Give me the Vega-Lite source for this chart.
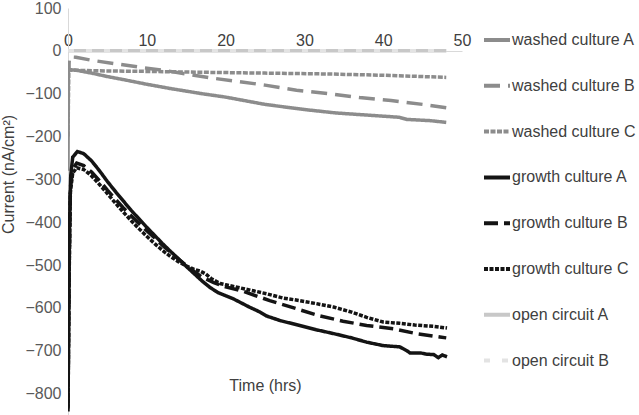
{
  "$schema": "https://vega.github.io/schema/vega-lite/v6.json",
  "width": 394,
  "height": 407,
  "autosize": {"type": "none"},
  "padding": {"left": 68, "top": 8, "right": 177, "bottom": 0},
  "background": "white",
  "config": {"view": {"stroke": null}, "font": "Liberation Sans"},
  "data": {"values": [
    {"s":"washed culture A","t":0,"v":-280},{"s":"washed culture A","t":0.05,"v":-27},{"s":"washed culture A","t":0.15,"v":-44},{"s":"washed culture A","t":1,"v":-45},{"s":"washed culture A","t":3,"v":-52},{"s":"washed culture A","t":5,"v":-60},{"s":"washed culture A","t":7,"v":-67},{"s":"washed culture A","t":10,"v":-78},{"s":"washed culture A","t":13,"v":-88},{"s":"washed culture A","t":17,"v":-100},{"s":"washed culture A","t":20,"v":-108},{"s":"washed culture A","t":25,"v":-125},{"s":"washed culture A","t":30,"v":-137},{"s":"washed culture A","t":34,"v":-145},{"s":"washed culture A","t":38,"v":-150},{"s":"washed culture A","t":42,"v":-155},{"s":"washed culture A","t":43,"v":-160},{"s":"washed culture A","t":46,"v":-163},{"s":"washed culture A","t":48,"v":-167},
    {"s":"washed culture B","t":0,"v":-60},{"s":"washed culture B","t":0.2,"v":-14},{"s":"washed culture B","t":1,"v":-15},{"s":"washed culture B","t":3,"v":-22},{"s":"washed culture B","t":6,"v":-30},{"s":"washed culture B","t":9,"v":-38},{"s":"washed culture B","t":12,"v":-45},{"s":"washed culture B","t":15,"v":-54},{"s":"washed culture B","t":18,"v":-63},{"s":"washed culture B","t":21,"v":-70},{"s":"washed culture B","t":25,"v":-80},{"s":"washed culture B","t":29,"v":-92},{"s":"washed culture B","t":33,"v":-100},{"s":"washed culture B","t":37,"v":-109},{"s":"washed culture B","t":41,"v":-116},{"s":"washed culture B","t":45,"v":-125},{"s":"washed culture B","t":48,"v":-133},
    {"s":"washed culture C","t":0,"v":-200},{"s":"washed culture C","t":0.1,"v":-45},{"s":"washed culture C","t":5,"v":-47},{"s":"washed culture C","t":10,"v":-48},{"s":"washed culture C","t":17,"v":-50},{"s":"washed culture C","t":25,"v":-52},{"s":"washed culture C","t":33,"v":-54},{"s":"washed culture C","t":40,"v":-57},{"s":"washed culture C","t":45,"v":-60},{"s":"washed culture C","t":48,"v":-62},
    {"s":"growth culture A","t":0,"v":-842},{"s":"growth culture A","t":0.1,"v":-600},{"s":"growth culture A","t":0.2,"v":-400},{"s":"growth culture A","t":0.35,"v":-290},{"s":"growth culture A","t":0.6,"v":-248},{"s":"growth culture A","t":1.2,"v":-235},{"s":"growth culture A","t":2,"v":-240},{"s":"growth culture A","t":3,"v":-257},{"s":"growth culture A","t":4,"v":-280},{"s":"growth culture A","t":5,"v":-305},{"s":"growth culture A","t":6,"v":-328},{"s":"growth culture A","t":7,"v":-350},{"s":"growth culture A","t":8,"v":-372},{"s":"growth culture A","t":9,"v":-392},{"s":"growth culture A","t":10,"v":-412},{"s":"growth culture A","t":11,"v":-431},{"s":"growth culture A","t":12,"v":-450},{"s":"growth culture A","t":13,"v":-468},{"s":"growth culture A","t":14,"v":-485},{"s":"growth culture A","t":15,"v":-503},{"s":"growth culture A","t":16,"v":-520},{"s":"growth culture A","t":17,"v":-537},{"s":"growth culture A","t":18,"v":-552},{"s":"growth culture A","t":19,"v":-564},{"s":"growth culture A","t":21,"v":-579},{"s":"growth culture A","t":23,"v":-598},{"s":"growth culture A","t":24.4,"v":-610},{"s":"growth culture A","t":25.2,"v":-619},{"s":"growth culture A","t":27,"v":-630},{"s":"growth culture A","t":29.4,"v":-641},{"s":"growth culture A","t":31.5,"v":-651},{"s":"growth culture A","t":33.7,"v":-660},{"s":"growth culture A","t":36,"v":-670},{"s":"growth culture A","t":37.9,"v":-680},{"s":"growth culture A","t":40,"v":-688},{"s":"growth culture A","t":42.1,"v":-691},{"s":"growth culture A","t":43,"v":-700},{"s":"growth culture A","t":43.4,"v":-705},{"s":"growth culture A","t":44.7,"v":-705},{"s":"growth culture A","t":45.5,"v":-708},{"s":"growth culture A","t":46.4,"v":-709},{"s":"growth culture A","t":47,"v":-716},{"s":"growth culture A","t":47.5,"v":-710},{"s":"growth culture A","t":48.1,"v":-714},
    {"s":"growth culture B","t":0,"v":-830},{"s":"growth culture B","t":0.15,"v":-500},{"s":"growth culture B","t":0.3,"v":-320},{"s":"growth culture B","t":0.6,"v":-275},{"s":"growth culture B","t":1.1,"v":-262},{"s":"growth culture B","t":2,"v":-268},{"s":"growth culture B","t":3,"v":-283},{"s":"growth culture B","t":4,"v":-303},{"s":"growth culture B","t":5,"v":-325},{"s":"growth culture B","t":6,"v":-346},{"s":"growth culture B","t":7,"v":-366},{"s":"growth culture B","t":8,"v":-385},{"s":"growth culture B","t":9,"v":-403},{"s":"growth culture B","t":10,"v":-420},{"s":"growth culture B","t":11,"v":-437},{"s":"growth culture B","t":12,"v":-454},{"s":"growth culture B","t":13,"v":-470},{"s":"growth culture B","t":14,"v":-486},{"s":"growth culture B","t":15,"v":-501},{"s":"growth culture B","t":16,"v":-515},{"s":"growth culture B","t":17,"v":-528},{"s":"growth culture B","t":18.5,"v":-541},{"s":"growth culture B","t":20,"v":-551},{"s":"growth culture B","t":22.2,"v":-561},{"s":"growth culture B","t":25.6,"v":-583},{"s":"growth culture B","t":29,"v":-602},{"s":"growth culture B","t":32,"v":-619},{"s":"growth culture B","t":34.9,"v":-631},{"s":"growth culture B","t":37.9,"v":-641},{"s":"growth culture B","t":41.3,"v":-649},{"s":"growth culture B","t":44.2,"v":-660},{"s":"growth culture B","t":47.2,"v":-668},{"s":"growth culture B","t":48,"v":-670},
    {"s":"growth culture C","t":0,"v":-835},{"s":"growth culture C","t":0.15,"v":-520},{"s":"growth culture C","t":0.3,"v":-330},{"s":"growth culture C","t":0.6,"v":-285},{"s":"growth culture C","t":1.1,"v":-273},{"s":"growth culture C","t":2,"v":-277},{"s":"growth culture C","t":3,"v":-292},{"s":"growth culture C","t":4,"v":-312},{"s":"growth culture C","t":5,"v":-333},{"s":"growth culture C","t":6,"v":-355},{"s":"growth culture C","t":7,"v":-376},{"s":"growth culture C","t":8,"v":-396},{"s":"growth culture C","t":9,"v":-415},{"s":"growth culture C","t":10,"v":-433},{"s":"growth culture C","t":11,"v":-450},{"s":"growth culture C","t":12,"v":-466},{"s":"growth culture C","t":13,"v":-480},{"s":"growth culture C","t":14,"v":-492},{"s":"growth culture C","t":15,"v":-502},{"s":"growth culture C","t":16,"v":-510},{"s":"growth culture C","t":16.75,"v":-514},{"s":"growth culture C","t":17.5,"v":-521},{"s":"growth culture C","t":18.2,"v":-532},{"s":"growth culture C","t":19.3,"v":-543},{"s":"growth culture C","t":20,"v":-546},{"s":"growth culture C","t":21,"v":-550},{"s":"growth culture C","t":23,"v":-558},{"s":"growth culture C","t":25.2,"v":-567},{"s":"growth culture C","t":27.3,"v":-577},{"s":"growth culture C","t":29.4,"v":-583},{"s":"growth culture C","t":31.5,"v":-590},{"s":"growth culture C","t":33.7,"v":-598},{"s":"growth culture C","t":36,"v":-610},{"s":"growth culture C","t":37.9,"v":-622},{"s":"growth culture C","t":40,"v":-633},{"s":"growth culture C","t":42.1,"v":-636},{"s":"growth culture C","t":44,"v":-640},{"s":"growth culture C","t":46.4,"v":-643},{"s":"growth culture C","t":48.1,"v":-647},
    {"s":"open circuit A","t":0,"v":0},{"s":"open circuit A","t":48,"v":0},
    {"s":"open circuit B","t":0,"v":0},{"s":"open circuit B","t":48,"v":0}
  ]},
  "mark": {"type": "line", "strokeWidth": 3.5, "clip": true},
  "encoding": {
    "x": {"field": "t", "type": "quantitative",
      "scale": {"domain": [0, 50], "nice": false, "zero": false},
      "axis": {"orient": "top", "offset": -43, "values": [0,10,20,30,40,50], "ticks": false, "grid": false,
        "domainColor": "#d9d9d9", "domainWidth": 1, "labelFlush": false, "labelFontSize": 16, "labelColor": "#404040", "labelPadding": 3,
        "title": "Time (hrs)", "titleFontSize": 16, "titleFontWeight": "normal", "titleColor": "#404040", "titleY": 334, "titleBaseline": "middle"}},
    "y": {"field": "v", "type": "quantitative",
      "scale": {"domain": [-850, 100], "nice": false, "zero": false},
      "axis": {"values": [100,0,-100,-200,-300,-400,-500,-600,-700,-800], "ticks": false, "grid": false,
        "domainColor": "#d9d9d9", "domainWidth": 1, "labelFontSize": 16, "labelColor": "#595959", "labelPadding": 7,
        "title": "Current (nA/cm²)", "titleFontSize": 16, "titleFontWeight": "normal", "titleColor": "#404040",
        "titleX": -52, "titleY": 166, "titleAngle": -90, "titleAlign": "center", "titleBaseline": "bottom"}},
    "color": {"field": "s", "type": "nominal",
      "scale": {"domain": ["washed culture A","washed culture B","washed culture C","growth culture A","growth culture B","growth culture C","open circuit A","open circuit B"],
        "range": ["#8c8c8c","#8c8c8c","#8c8c8c","#141414","#141414","#141414","#c8c8c8","#e3e3e3"]},
      "legend": {"orient": "none", "legendX": 414, "legendY": 17, "title": null, "symbolType": "stroke", "symbolSize": 676, "symbolStrokeWidth": 4,
        "labelFontSize": 16, "labelColor": "#404040", "labelOffset": 0, "rowPadding": 22.8, "labelLimit": 300}},
    "strokeDash": {"field": "s", "type": "nominal",
      "scale": {"domain": ["washed culture A","washed culture B","washed culture C","growth culture A","growth culture B","growth culture C","open circuit A","open circuit B"],
        "range": [[1,0],[16,8],[5,1.5],[1,0],[14,6],[4,1.5],[1,0],[6,12]]},
      "legend": {"orient": "none", "legendX": 414, "legendY": 17, "title": null, "symbolType": "stroke", "symbolSize": 676, "symbolStrokeWidth": 4,
        "labelFontSize": 16, "labelColor": "#404040", "labelOffset": 0, "rowPadding": 22.8, "labelLimit": 300}}
  }
}
